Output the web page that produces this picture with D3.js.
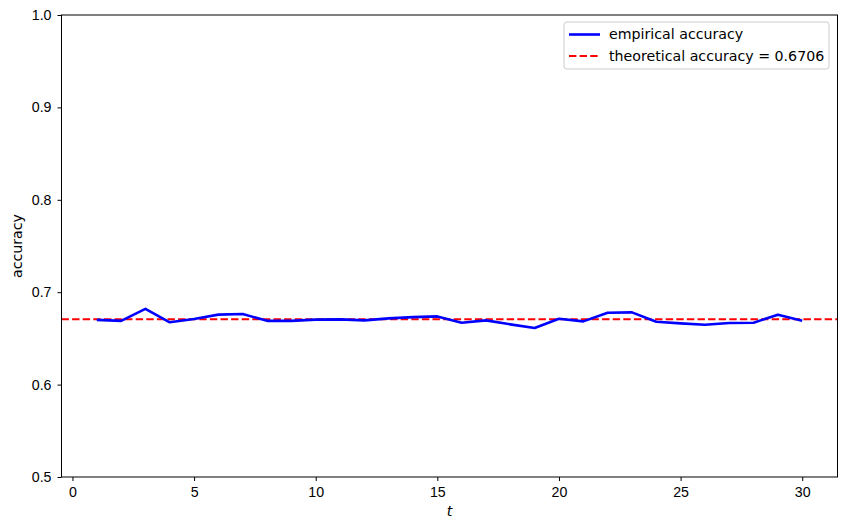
<!DOCTYPE html>
<html>
<head>
<meta charset="utf-8">
<script src="https://cdn.jsdelivr.net/npm/d3@7"></script>
<style>
  body { margin: 0; background: #fff; }
  svg { font-family: "DejaVu Sans", sans-serif; }
  .tick text { font-size: 14.2px; fill: #000; }
  .tick line, .domain { stroke: #000; }
</style>
</head>
<body>
<div id="chart"></div>
<script>
var steps = [1, 2, 3, 4, 5, 6, 7, 8, 9, 10, 11, 12, 13, 14, 15,
             16, 17, 18, 19, 20, 21, 22, 23, 24, 25, 26, 27, 28, 29, 30];
var empirical = [0.6700, 0.6690, 0.6820, 0.6674, 0.6710, 0.6757, 0.6764, 0.6690, 0.6690, 0.6703,
                 0.6706, 0.6695, 0.6717, 0.6730, 0.6738, 0.6670, 0.6695, 0.6652, 0.6612, 0.6713,
                 0.6684, 0.6778, 0.6782, 0.6680, 0.6663, 0.6648, 0.6666, 0.6670, 0.6757, 0.6692];
var theoretical = 0.6706;
var xTicks = [0, 5, 10, 15, 20, 25, 30];
var yTicks = [0.5, 0.6, 0.7, 0.8, 0.9, 1.0];
var legendLabels = ["empirical accuracy", "theoretical accuracy = " + theoretical];

const WIDTH = 846;
const HEIGHT = 530;
const LEFT = 61.5, RIGHT = 837.5, TOP = 15, BOTTOM = 477;
const FONT = 14.2;

var translate = function (x, y) {
    return "translate(" + x + "," + y + ")";
};

var svg = d3.select("#chart").append("svg")
    .attr("width", WIDTH)
    .attr("height", HEIGHT);

var xScale = d3.scaleLinear()
    .domain([-0.45, 31.45])
    .range([LEFT, RIGHT]);

var yScale = d3.scaleLinear()
    .domain([0.5, 1.0])
    .range([BOTTOM, TOP]);

var xAxis = d3.axisBottom(xScale).tickValues(xTicks).tickSize(4).tickPadding(6)
    .tickFormat(d3.format("d"));
var yAxis = d3.axisLeft(yScale).tickValues(yTicks).tickSize(4).tickPadding(6)
    .tickFormat(d3.format(".1f"));

svg.append("g")
    .attr("transform", translate(0, BOTTOM))
    .call(xAxis)
    .call(function (g) { g.select(".domain").remove(); });

svg.append("g")
    .attr("transform", translate(LEFT, 0))
    .call(yAxis)
    .call(function (g) { g.select(".domain").remove(); });

// theoretical line
svg.append("line")
    .attr("x1", LEFT).attr("x2", RIGHT)
    .attr("y1", yScale(theoretical)).attr("y2", yScale(theoretical))
    .attr("stroke", "#ff0000")
    .attr("stroke-width", 2)
    .attr("stroke-dasharray", "7.4,3.2");

var line = d3.line()
    .x(function (d, i) { return xScale(steps[i]); })
    .y(function (d) { return yScale(d); });

svg.append("path")
    .attr("d", line(empirical))
    .attr("fill", "none")
    .attr("stroke", "#0000ff")
    .attr("stroke-width", 2.6)
    .attr("stroke-linejoin", "round");

// frame
svg.append("rect")
    .attr("x", LEFT).attr("y", TOP)
    .attr("width", RIGHT - LEFT).attr("height", BOTTOM - TOP)
    .attr("fill", "none")
    .attr("stroke", "#000")
    .attr("stroke-width", 1);

// axis labels
svg.append("text")
    .attr("x", (LEFT + RIGHT) / 2)
    .attr("y", 516)
    .attr("text-anchor", "middle")
    .attr("font-size", FONT)
    .attr("font-style", "italic")
    .text("t");

svg.append("text")
    .attr("transform", translate(21.5, (TOP + BOTTOM) / 2) + " rotate(-90)")
    .attr("text-anchor", "middle")
    .attr("font-size", FONT)
    .text("accuracy");

// legend
var legend = svg.append("g").attr("transform", translate(564, 22));
legend.append("rect")
    .attr("width", 265).attr("height", 47)
    .attr("rx", 3)
    .attr("fill", "#fff")
    .attr("fill-opacity", 0.8)
    .attr("stroke", "#ccc");

var legendStyles = [
    { color: "#0000ff", dash: null, width: 2.6 },
    { color: "#ff0000", dash: "7.4,3.2", width: 2 }
];
legendLabels.forEach(function (label, i) {
    var y = 12.5 + i * 21.5;
    legend.append("line")
        .attr("x1", 5).attr("x2", 36)
        .attr("y1", y).attr("y2", y)
        .attr("stroke", legendStyles[i].color)
        .attr("stroke-width", legendStyles[i].width)
        .attr("stroke-dasharray", legendStyles[i].dash);
    legend.append("text")
        .attr("x", 45).attr("y", y)
        .attr("dy", "0.35em")
        .attr("font-size", FONT)
        .text(label);
});
</script>
</body>
</html>
